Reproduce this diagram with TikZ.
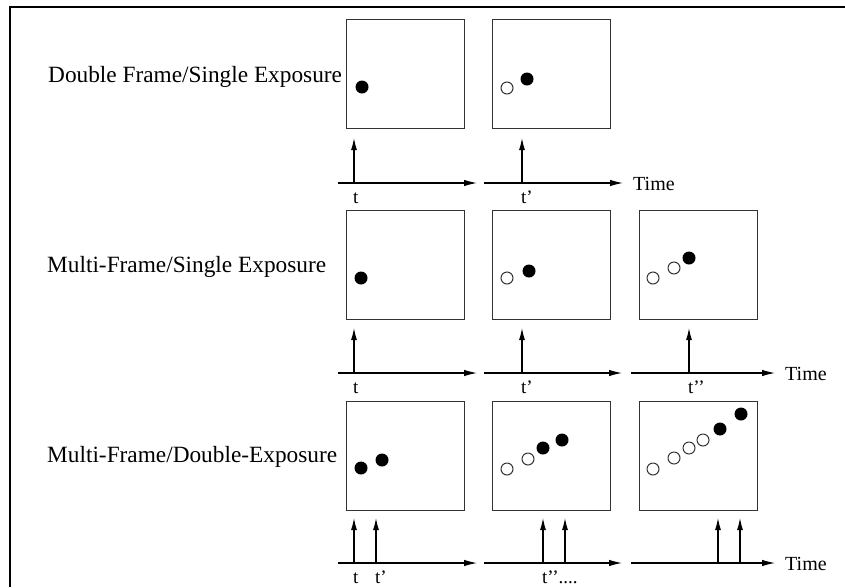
\documentclass[tikz,border=0pt]{standalone}
\usepackage{fontspec}
\setmainfont{Liberation Serif}
\usetikzlibrary{arrows.meta,positioning}
\definecolor{boxc}{HTML}{333333}
\tikzset{
  frm/.style={draw=boxc,line width=1.3pt,minimum width=118pt,minimum height=109pt,inner sep=0pt,anchor=north west},
  ax/.style={-{Latex[length=13pt,width=6.5pt]},line width=1.1pt},
  pulse/.style={-{Latex[length=12pt,width=6pt]},line width=1.1pt},
  blk/.style={fill=black},
  opn/.style={draw=black!80,line width=1pt,fill=white},
  rowlab/.style={font=\fontsize{23.3}{28}\selectfont,anchor=base west,inner sep=0pt},
  tlab/.style={font=\fontsize{19}{23}\selectfont,anchor=base west,inner sep=0pt},
  timelab/.style={font=\fontsize{20}{24}\selectfont,anchor=base west,inner sep=0pt}
}

\begin{document}
\begin{tikzpicture}[x=1pt,y=-1pt]
\useasboundingbox (0,0) rectangle (845,587);
\draw[line width=1.5pt] (10,587) -- (10,7) -- (845,7);
% row titles
\node[rowlab] (l1) at (48,82) {Double Frame/Single Exposure};
\node[rowlab] (l2) at (47,272) {Multi-Frame/Single Exposure};
\node[rowlab] (l3) at (47,462) {Multi-Frame/Double-Exposure};
% image frames
\foreach \n/\x/\y in {11/346/19,12/492/19,21/346/210,22/492/210,23/639/210,31/346/401,32/492/401,33/639/401}
  \node[frm] (b\n) at (\x,\y) {};
% particles in each frame
\begin{scope}[shift={(b11.north west)}]
  \fill[blk] (16,68) circle (6.5);
\end{scope}
\begin{scope}[shift={(b12.north west)}]
  \draw[opn] (15,69) circle (6);
  \fill[blk] (35,60) circle (6.5);
\end{scope}
\begin{scope}[shift={(b21.north west)}]
  \fill[blk] (15,68) circle (6.5);
\end{scope}
\begin{scope}[shift={(b22.north west)}]
  \draw[opn] (15,68) circle (6);
  \fill[blk] (37,61) circle (6.5);
\end{scope}
\begin{scope}[shift={(b23.north west)}]
  \foreach \p in {(14,68),(35,58)} \draw[opn] \p circle (6);
  \fill[blk] (50,48) circle (6.5);
\end{scope}
\begin{scope}[shift={(b31.north west)}]
  \foreach \p in {(15,67),(36,59)} \fill[blk] \p circle (6.5);
\end{scope}
\begin{scope}[shift={(b32.north west)}]
  \foreach \p in {(15,68),(36,58)} \draw[opn] \p circle (6);
  \foreach \p in {(51,47),(70,39)} \fill[blk] \p circle (6.5);
\end{scope}
\begin{scope}[shift={(b33.north west)}]
  \foreach \p in {(14,68),(35,57),(50,47),(64,39)} \draw[opn] \p circle (6);
  \foreach \p in {(81,28),(102,13)} \fill[blk] \p circle (6.5);
\end{scope}
% time axes
\foreach \x/\e/\y in {338/477/183,484/623/183,338/477/373,484/622/373,631/775/373,338/477/563,484/622/563,631/775/563}
  \draw[ax] (\x,\y) -- (\e,\y);
% exposure pulses
\foreach \x/\y in {354/183,522/183,354/373,522/373,689/373,354/563,376/563,543/563,565/563,718/563,740/563}
  \draw[pulse] (\x,\y) -- ++(0,-45);
% time marks
\node[tlab] (t11) at (353,203) {t};
\node[tlab] (t12) at (521,203) {t'};
\node[tlab] (t21) at (353,393) {t};
\node[tlab] (t22) at (521,393) {t'};
\node[tlab] (t23) at (688,393) {t'{}'};
\node[tlab] (t31) at (353,583) {t};
\node[tlab] (t32) at (375,583) {t'};
\node[tlab] (t33) at (542,583) {t'{}'....};
\node[timelab] (tm1) at (633,190) {Time};
\node[timelab] (tm2) at (785,380) {Time};
\node[timelab] (tm3) at (785,570) {Time};
\end{tikzpicture}
\end{document}
